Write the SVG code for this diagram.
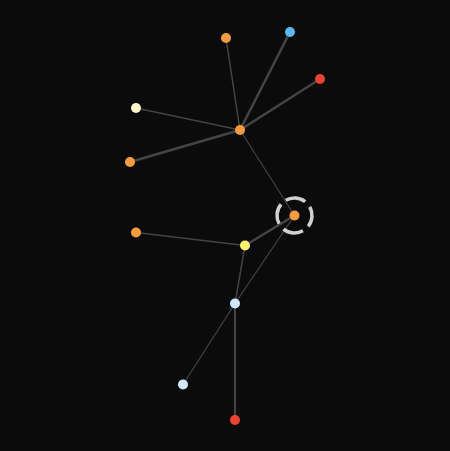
<svg xmlns="http://www.w3.org/2000/svg" width="450" height="451" viewBox="0 0 450 451">
<style>
.e{stroke:#444;fill:none;stroke-linecap:round}
.n{stroke:none}
.o{fill:#f89c42}.r{fill:#ea4330}.b{fill:#5cb8f2}.lb{fill:#cfe8ff}.y{fill:#fff16c}.cr{fill:#fff6cc}
</style>
<rect width="450" height="451" fill="#0b0b0b"/>
<g id="connectors">
<line class="e" x1="294.5" y1="215.5" x2="240" y2="130" stroke-width="1.2"/>
<line class="e" x1="240" y1="130" x2="226" y2="38" stroke-width="1.5"/>
<line class="e" x1="240" y1="130" x2="290" y2="32" stroke-width="2.5"/>
<line class="e" x1="240" y1="130" x2="320" y2="79" stroke-width="2.5"/>
<line class="e" x1="240" y1="130" x2="136" y2="108" stroke-width="1.5"/>
<line class="e" x1="240" y1="130" x2="130" y2="162" stroke-width="2.5"/>
<line class="e" x1="294.5" y1="215.5" x2="245" y2="245.5" stroke-width="2.5"/>
<line class="e" x1="245" y1="245.5" x2="136" y2="232.5" stroke-width="1.5"/>
<line class="e" x1="245" y1="245.5" x2="235" y2="303.5" stroke-width="1.5"/>
<line class="e" x1="294.5" y1="215.5" x2="235" y2="303.5" stroke-width="1.2"/>
<line class="e" x1="235" y1="303.5" x2="183" y2="384.5" stroke-width="1.2"/>
<line class="e" x1="235" y1="303.5" x2="235" y2="420" stroke-width="2"/>
</g>
<g id="node-center">
<circle cx="294.5" cy="215.5" r="17.5" fill="none" stroke="#d0d0d0" stroke-width="3.5" stroke-dasharray="20.5 7" transform="rotate(-120 294.5 215.5)"/>
<circle class="n o" cx="294.5" cy="215.5" r="5"/>
</g>
<g id="node-hub"><circle class="n o" cx="240" cy="130" r="5"/></g>
<g id="node-t1"><circle class="n o" cx="226" cy="38" r="5"/></g>
<g id="node-t2"><circle class="n b" cx="290" cy="32" r="5"/></g>
<g id="node-t3"><circle class="n r" cx="320" cy="79" r="5"/></g>
<g id="node-t4"><circle class="n cr" cx="136" cy="108" r="5"/></g>
<g id="node-t5"><circle class="n o" cx="130" cy="162" r="5"/></g>
<g id="node-y"><circle class="n y" cx="245" cy="245.5" r="5"/></g>
<g id="node-y1"><circle class="n o" cx="136" cy="232.5" r="5"/></g>
<g id="node-l"><circle class="n lb" cx="235" cy="303.5" r="5"/></g>
<g id="node-l1"><circle class="n lb" cx="183" cy="384.5" r="5"/></g>
<g id="node-l2"><circle class="n r" cx="235" cy="420" r="5"/></g>
</svg>
